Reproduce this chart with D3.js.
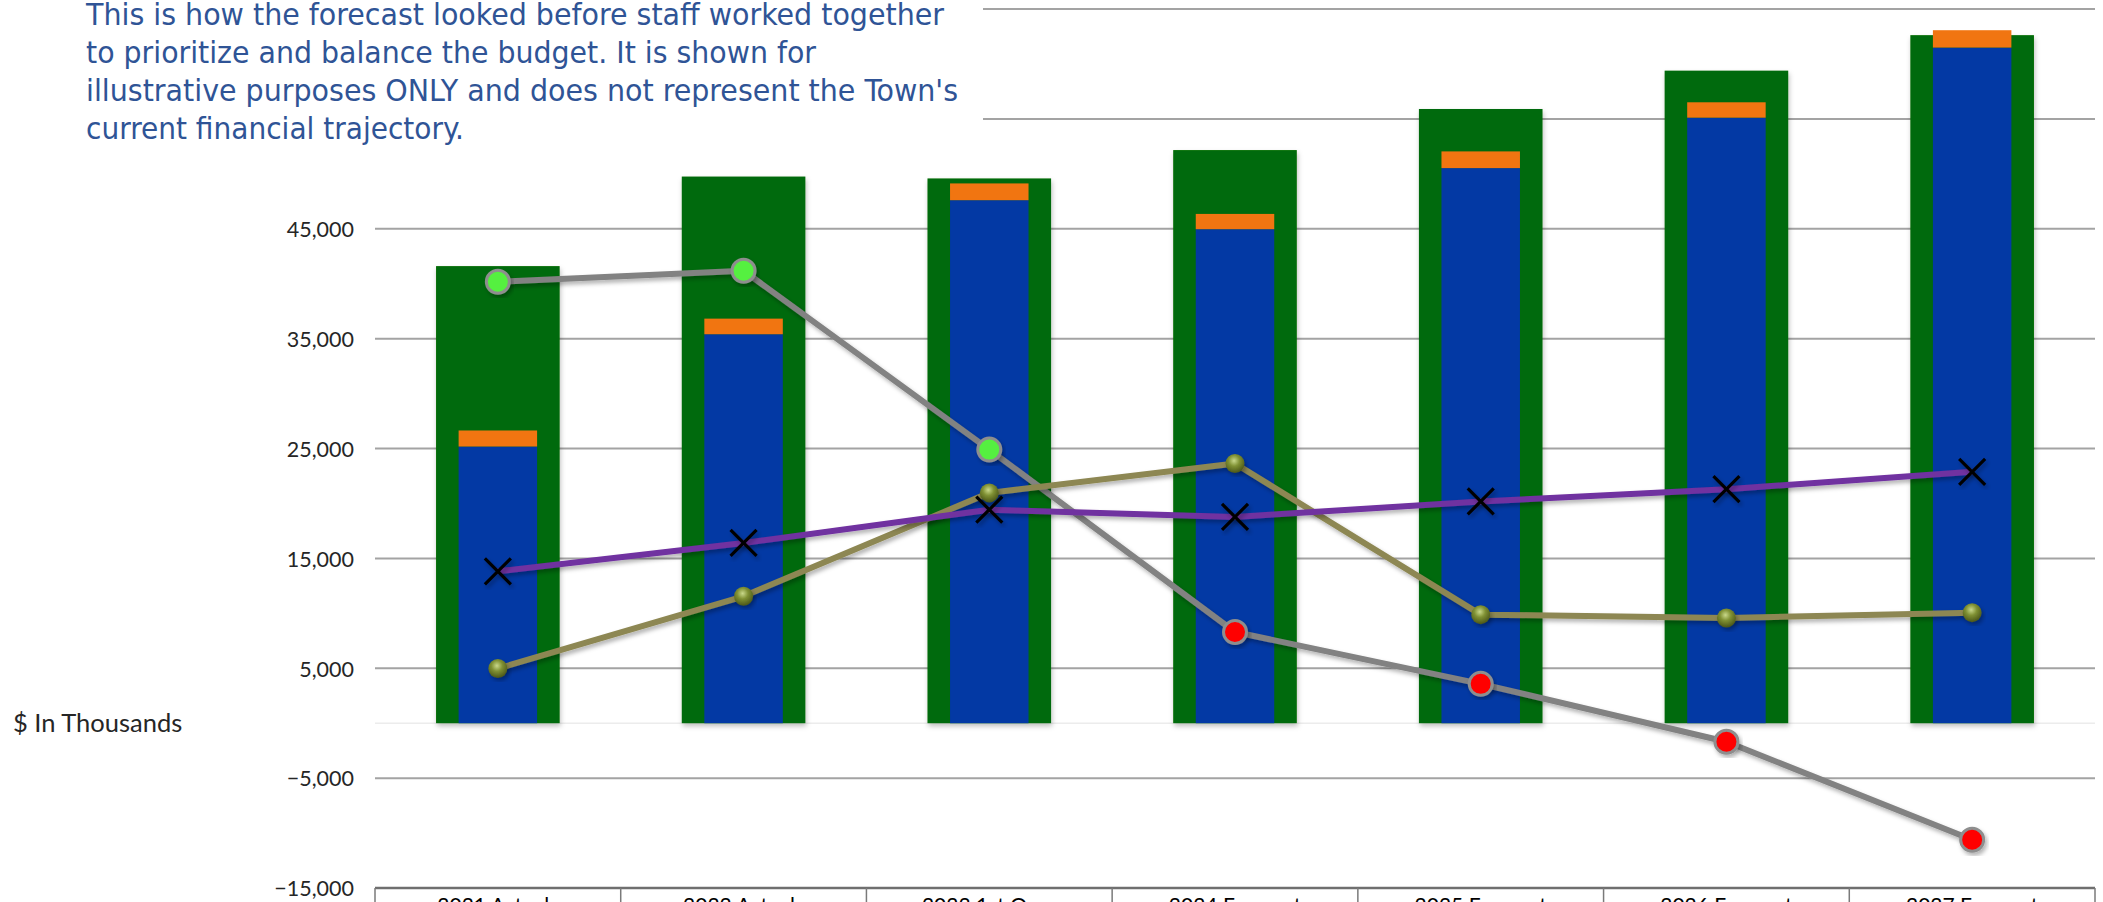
<!DOCTYPE html>
<html>
<head>
<meta charset="utf-8">
<script src="https://cdn.jsdelivr.net/npm/d3@7"></script>
<style>
  html, body { margin: 0; padding: 0; background: #ffffff; overflow: hidden; }
  svg { display: block; }
</style>
</head>
<body>
<svg id="chart" width="2103" height="902"></svg>
<script>
// ---------------- DATA ----------------
const categories = ["2021 Actuals", "2022 Actuals", "2023 1st Quar", "2024 Forecast", "2025 Forecast", "2026 Forecast", "2027 Forecast"];
const totalRevenue   = [41600, 49750, 49580, 52160, 55900, 59390, 62620];   // green bars
const expenditures   = [25180, 35400, 47600, 44960, 50520, 55110, 61490];   // blue bars
const otherUses      = [1460, 1420, 1525, 1390, 1520, 1400, 1580];          // orange stacked segment
const fundBalance    = [40180, 41180, 24900, 8300, 3580, -1690, -10610];    // gray line
const oliveSeries    = [4970, 11550, 20960, 23630, 9880, 9580, 10060];      // olive line
const purpleSeries   = [13820, 16400, 19430, 18770, 20180, 21300, 22880];   // purple line
const gridTicks  = [-15000, -5000, 5000, 15000, 25000, 35000, 45000, 55000, 65000];
const labelTicks = [-15000, -5000, 5000, 15000, 25000, 35000, 45000];
const noteLines = [
  "This is how the forecast looked before staff worked together",
  "to prioritize and balance the budget. It is shown for",
  "illustrative purposes ONLY and does not represent the Town's",
  "current financial trajectory."
];
const axisTitle = "$ In Thousands";

// ---------------- LAYOUT ----------------
const svg = d3.select("#chart");
const plotLeft = 375, plotRight = 2095;
const x = d3.scaleBand().domain(categories).range([plotLeft, plotRight]).paddingInner(0.497).paddingOuter(0.2485);
const y = d3.scaleLinear().domain([-15000, 65000]).range([888, 9]);
const step = x.step();
const innerW = x.bandwidth() * 0.635;
const cx = c => x(c) + x.bandwidth() / 2;
const fmt = d3.format(",");

const defs = svg.append("defs");
const sh = defs.append("filter").attr("id", "shadow").attr("x", "-20%").attr("y", "-20%").attr("width", "140%").attr("height", "140%");
sh.append("feDropShadow").attr("dx", 2).attr("dy", 3).attr("stdDeviation", 2).attr("flood-color", "#000").attr("flood-opacity", 0.3);
const shb = defs.append("filter").attr("id", "barshadow").attr("x", "-10%").attr("y", "-5%").attr("width", "120%").attr("height", "110%");
shb.append("feDropShadow").attr("dx", 1).attr("dy", 3).attr("stdDeviation", 2.5).attr("flood-color", "#000").attr("flood-opacity", 0.25);
const rg = defs.append("radialGradient").attr("id", "olivegrad").attr("cx", "45%").attr("cy", "35%").attr("r", "65%");
rg.append("stop").attr("offset", "0%").attr("stop-color", "#c9d88a");
rg.append("stop").attr("offset", "45%").attr("stop-color", "#7f9033");
rg.append("stop").attr("offset", "100%").attr("stop-color", "#4a5518");

// gridlines
svg.append("g").selectAll("line").data(gridTicks).join("line")
  .attr("x1", plotLeft).attr("x2", plotRight)
  .attr("y1", d => y(d)).attr("y2", d => y(d))
  .attr("stroke", "#a3a3a3").attr("stroke-width", 2);
// zero line (faint)
svg.append("line").attr("x1", plotLeft).attr("x2", plotRight)
  .attr("y1", y(0)).attr("y2", y(0)).attr("stroke", "#ececec").attr("stroke-width", 1.5);

// y axis labels via d3 axis
const yAxis = d3.axisLeft(y).tickValues(labelTicks).tickFormat(d => fmt(d)).tickSize(0).tickPadding(0);
const gy = svg.append("g").attr("transform", "translate(354,0)").call(yAxis);
gy.select(".domain").remove();
gy.selectAll("text").attr("font-family", "Lato, 'Open Sans', sans-serif").attr("font-size", 21.5).attr("fill", "#262626").attr("dy", "0.36em");

// axis title
svg.append("text").attr("x", 13).attr("y", y(0)).attr("dy", "0.36em")
  .attr("font-family", "Lato, 'Open Sans', sans-serif").attr("font-size", 25.5).attr("fill", "#262626")
  .text(axisTitle);

// green bars
svg.append("g").selectAll("rect").data(categories).join("rect")
  .attr("x", d => x(d)).attr("width", x.bandwidth())
  .attr("y", (d, i) => y(totalRevenue[i])).attr("height", (d, i) => y(0) - y(totalRevenue[i]))
  .attr("fill", "#066b07").attr("filter", "url(#barshadow)");
// blue bars
svg.append("g").selectAll("rect").data(categories).join("rect")
  .attr("x", d => cx(d) - innerW / 2).attr("width", innerW)
  .attr("y", (d, i) => y(expenditures[i])).attr("height", (d, i) => y(0) - y(expenditures[i]))
  .attr("fill", "#0339a4");
// orange stacked segments
svg.append("g").selectAll("rect").data(categories).join("rect")
  .attr("x", d => cx(d) - innerW / 2).attr("width", innerW)
  .attr("y", (d, i) => y(expenditures[i] + otherUses[i])).attr("height", (d, i) => y(expenditures[i]) - y(expenditures[i] + otherUses[i]))
  .attr("fill", "#f17511");

// lines
const lineGen = vals => d3.line().x((d, i) => cx(categories[i])).y(d => y(d))(vals);

// gray line
svg.append("path").attr("d", lineGen(fundBalance)).attr("fill", "none")
  .attr("stroke", "#828282").attr("stroke-width", 6).attr("stroke-linejoin", "round").attr("filter", "url(#shadow)");
svg.append("g").selectAll("circle").data(fundBalance).join("circle")
  .attr("cx", (d, i) => cx(categories[i])).attr("cy", d => y(d)).attr("r", 11.5)
  .attr("fill", (d, i) => categories[i].includes("Forecast") ? "#ff0000" : "#55f03f")
  .attr("stroke", "#8e8e8e").attr("stroke-width", 3).attr("filter", "url(#shadow)");

// olive line
svg.append("path").attr("d", lineGen(oliveSeries)).attr("fill", "none")
  .attr("stroke", "#8d8752").attr("stroke-width", 6).attr("stroke-linejoin", "round").attr("filter", "url(#shadow)");
svg.append("g").selectAll("circle").data(oliveSeries).join("circle")
  .attr("cx", (d, i) => cx(categories[i])).attr("cy", d => y(d)).attr("r", 9.5)
  .attr("fill", "url(#olivegrad)").attr("filter", "url(#shadow)");

// purple line
svg.append("path").attr("d", lineGen(purpleSeries)).attr("fill", "none")
  .attr("stroke", "#7030a0").attr("stroke-width", 6).attr("stroke-linejoin", "round").attr("filter", "url(#shadow)");
const xs = 13;
svg.append("g").selectAll("path").data(purpleSeries).join("path")
  .attr("d", (d, i) => {
    const px = cx(categories[i]), py = y(d);
    return `M${px - xs},${py - xs}L${px + xs},${py + xs}M${px - xs},${py + xs}L${px + xs},${py - xs}`;
  })
  .attr("stroke", "#000").attr("stroke-width", 3.2).attr("fill", "none").attr("filter", "url(#shadow)");

// category table (x axis at -15,000)
const axisY = y(-15000);
svg.append("line").attr("x1", plotLeft).attr("x2", plotRight).attr("y1", axisY).attr("y2", axisY)
  .attr("stroke", "#6f6f6f").attr("stroke-width", 2.5);
const bounds = categories.map(c => x(c) - (step - x.bandwidth()) / 2).concat([plotRight]);
svg.append("g").selectAll("line").data(bounds).join("line")
  .attr("x1", d => d).attr("x2", d => d).attr("y1", axisY).attr("y2", 902)
  .attr("stroke", "#7a7a7a").attr("stroke-width", 1.5);
svg.append("g").selectAll("text").data(categories).join("text")
  .attr("x", d => cx(d)).attr("y", 913).attr("text-anchor", "middle")
  .attr("font-family", "Lato, 'Open Sans', sans-serif").attr("font-size", 21).attr("fill", "#000")
  .text(d => d);

// note text box (white, covers the top-left)
svg.append("rect").attr("x", 0).attr("y", 0).attr("width", 983).attr("height", 160).attr("fill", "#ffffff");
const noteWidths = [858, 730, 872, 378];
const nt = svg.append("g");
noteLines.forEach((t, i) => {
  nt.append("text").attr("x", 86).attr("y", 25 + i * 38)
    .attr("font-family", "'DejaVu Sans Condensed', 'DejaVu Sans', sans-serif").attr("font-size", 29.5)
    .attr("fill", "#2f5496").attr("textLength", noteWidths[i]).attr("lengthAdjust", "spacingAndGlyphs")
    .text(t);
});
</script>
</body>
</html>
